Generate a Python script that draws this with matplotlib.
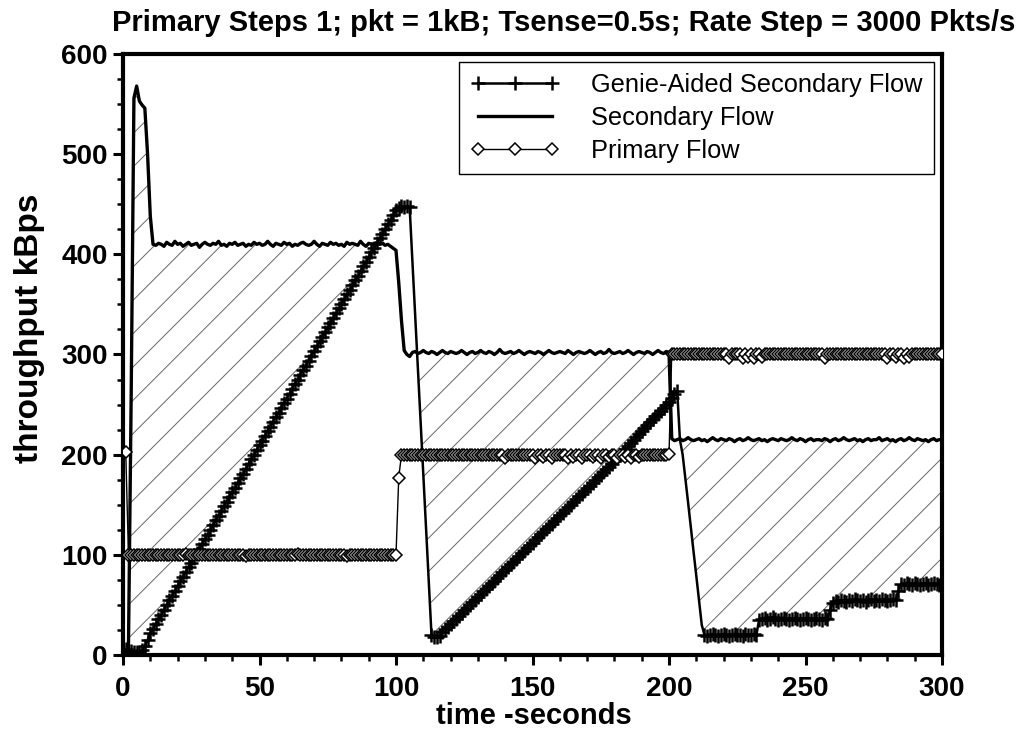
import numpy as np
import matplotlib
matplotlib.use("Agg")
import matplotlib.pyplot as plt

plt.rcParams['font.family'] = ['Liberation Sans', 'DejaVu Sans']
plt.rcParams['hatch.linewidth'] = 0.7

title_text = "Primary Steps 1; pkt = 1kB; Tsense=0.5s; Rate Step = 3000 Pkts/s"
x_label = "time -seconds"
y_label = "throughput kBps"
series_names = ["Genie-Aided Secondary Flow", "Secondary Flow", "Primary Flow"]
x_ticks = [0, 50, 100, 150, 200, 250, 300]
y_ticks = [0, 100, 200, 300, 400, 500, 600]

# time axis (seconds), one sample per second
seconds = list(range(0, 301))

secondary_kbps = [
    0, 2, 8, 260, 556, 568, 553, 549, 546, 500,            # 0-9
    438, 410, 409, 411, 410, 408, 412, 410, 409, 413,      # 10-19
    410, 411, 408, 410, 412, 409, 410, 411, 407, 410,      # 20-29
    412, 410, 409, 411, 410, 413, 409, 410, 408, 411,      # 30-39
    410, 412, 409, 410, 411, 408, 410, 409, 412, 410,      # 40-49
    411, 409, 410, 413, 410, 408, 411, 410, 409, 412,      # 50-59
    410, 411, 408, 410, 409, 411, 412, 410, 409, 410,      # 60-69
    413, 410, 408, 411, 410, 409, 412, 410, 411, 409,      # 70-79
    410, 408, 412, 410, 411, 410, 409, 413, 410, 408,      # 80-89
    411, 410, 409, 412, 410, 411, 409, 410, 408, 406,      # 90-99
    404, 372, 334, 304, 300, 298, 302, 303, 301, 302,      # 100-109
    304, 302, 301, 303, 302, 300, 302, 304, 302, 301,      # 110-119
    303, 302, 301, 302, 304, 302, 300, 302, 303, 301,      # 120-129
    302, 304, 302, 301, 303, 302, 300, 302, 305, 302,      # 130-139
    301, 302, 303, 301, 302, 304, 302, 300, 302, 303,      # 140-149
    302, 301, 303, 302, 300, 302, 304, 302, 301, 302,      # 150-159
    303, 302, 301, 304, 302, 300, 302, 303, 302, 301,      # 160-169
    302, 304, 302, 300, 302, 303, 301, 302, 305, 302,      # 170-179
    301, 302, 303, 301, 302, 304, 302, 300, 302, 303,      # 180-189
    302, 301, 303, 302, 300, 302, 304, 302, 301, 303,      # 190-199
    302, 216, 214, 215, 216, 214, 215, 217, 215, 214,      # 200-209
    215, 216, 214, 215, 213, 215, 217, 215, 214, 216,      # 210-219
    215, 214, 216, 215, 213, 215, 216, 214, 215, 217,      # 220-229
    215, 214, 215, 216, 214, 215, 213, 215, 216, 215,      # 230-239
    214, 216, 215, 214, 215, 217, 215, 214, 216, 215,      # 240-249
    213, 215, 216, 214, 215, 215, 214, 216, 215, 213,      # 250-259
    215, 216, 214, 215, 217, 215, 214, 215, 216, 214,      # 260-269
    215, 213, 215, 216, 214, 215, 215, 217, 214, 215,      # 270-279
    216, 214, 215, 213, 215, 216, 214, 215, 217, 215,      # 280-289
    214, 216, 215, 214, 215, 213, 215, 216, 214, 215,      # 290-299
    215,                                                   # 300
]

genie_kbps = [
    0, 6, 5, 4, 3, 3, 2, 5, 9, 15,                         # 0-9
    22, 26, 31, 36, 40, 45, 50, 55, 59, 64,                # 10-19
    69, 74, 78, 83, 88, 92, 97, 102, 106, 111,             # 20-29
    116, 120, 125, 130, 135, 139, 144, 149, 153, 158,      # 30-39
    163, 167, 172, 177, 181, 186, 191, 196, 200, 205,      # 40-49
    210, 214, 219, 224, 228, 233, 238, 242, 247, 252,      # 50-59
    256, 261, 266, 271, 275, 280, 285, 289, 294, 299,      # 60-69
    303, 308, 313, 317, 322, 327, 331, 336, 341, 346,      # 70-79
    350, 355, 360, 364, 369, 374, 378, 383, 388, 392,      # 80-89
    397, 402, 406, 411, 416, 420, 425, 430, 434, 439,      # 90-99
    444, 446, 448, 447, 448, 447, 394, 340, 287, 234,      # 100-109
    180, 127, 73, 20, 18, 18, 19, 23, 26, 28,              # 110-119
    31, 34, 36, 39, 42, 45, 47, 50, 53, 55,                # 120-129
    58, 61, 64, 66, 69, 72, 74, 77, 80, 83,                # 130-139
    85, 88, 91, 93, 96, 99, 102, 104, 107, 110,            # 140-149
    112, 115, 118, 121, 123, 126, 129, 131, 134, 137,      # 150-159
    140, 142, 145, 148, 150, 153, 156, 159, 161, 164,      # 160-169
    167, 169, 172, 175, 178, 180, 183, 186, 188, 191,      # 170-179
    194, 197, 200, 203, 206, 209, 212, 215, 218, 221,      # 180-189
    224, 227, 230, 233, 236, 239, 241, 244, 247, 250,      # 190-199
    253, 257, 261, 264, 215, 200, 176, 152, 127, 103,      # 200-209
    79, 54, 30, 20, 19, 20, 21, 20, 19, 20,                # 210-219
    21, 20, 19, 20, 21, 20, 20, 19, 21, 20,                # 220-229
    20, 21, 20, 35, 36, 37, 35, 36, 38, 36,                # 230-239
    35, 36, 37, 36, 35, 36, 37, 36, 35, 36,                # 240-249
    37, 36, 35, 36, 37, 36, 35, 37, 36, 45,                # 250-259
    52, 54, 53, 55, 54, 53, 55, 54, 56, 55,                # 260-269
    54, 55, 53, 55, 56, 54, 55, 54, 56, 55,                # 270-279
    54, 55, 56, 55, 64, 71, 70, 72, 71, 70,                # 280-289
    72, 71, 70, 71, 72, 70, 71, 72, 71, 70,                # 290-299
    71,                                                    # 300
]

nan = float('nan')
primary_kbps = [
    nan, 203, 100, 100, 100, 100, 100, 100, 100, 100,      # 0-9
    100, 100, 100, 100, 100, 100, 100, 100, 100, 100,      # 10-19
    100, 100, 100, 101, 100, 100, 100, 100, 100, 100,      # 20-29
    100, 100, 100, 100, 100, 100, 100, 100, 100, 100,      # 30-39
    100, 100, 100, 100, 100, 99, 100, 100, 100, 100,       # 40-49
    100, 100, 100, 100, 100, 100, 100, 100, 100, 100,      # 50-59
    100, 100, 100, 100, 101, 100, 100, 100, 100, 100,      # 60-69
    100, 100, 100, 100, 100, 100, 100, 100, 100, 100,      # 70-79
    100, 100, 99, 100, 100, 100, 100, 100, 100, 100,       # 80-89
    100, 100, 100, 100, 100, 100, 100, 100, 100, 100,      # 90-99
    100, 177, 200, 200, 200, 200, 200, 200, 200, 200,      # 100-109
    200, 200, 200, 200, 200, 200, 200, 200, 200, 200,      # 110-119
    200, 200, 200, 200, 200, 200, 200, 200, 200, 200,      # 120-129
    200, 200, 200, 200, 200, 200, 200, 200, 200, 200,      # 130-139
    197, 200, 200, 200, 200, 200, 200, 200, 200, 200,      # 140-149
    200, 197, 200, 200, 198, 200, 200, 197, 200, 200,      # 150-159
    200, 200, 200, 197, 200, 198, 200, 200, 197, 200,      # 160-169
    200, 200, 198, 200, 200, 197, 200, 200, 198, 200,      # 170-179
    200, 197, 200, 200, 198, 200, 197, 200, 200, 198,      # 180-189
    200, 200, 200, 200, 200, 200, 200, 200, 200, 200,      # 190-199
    201, 300, 300, 300, 300, 300, 300, 300, 300, 300,      # 200-209
    300, 300, 300, 300, 300, 300, 300, 300, 300, 300,      # 210-219
    300, 300, 297, 300, 300, 300, 300, 297, 300, 298,      # 220-229
    300, 297, 300, 300, 298, 300, 300, 300, 300, 300,      # 230-239
    300, 300, 300, 300, 300, 300, 300, 300, 300, 300,      # 240-249
    300, 300, 300, 300, 300, 300, 300, 297, 300, 300,      # 250-259
    300, 300, 300, 300, 300, 300, 300, 300, 300, 300,      # 260-269
    300, 300, 300, 300, 300, 300, 300, 300, 300, 300,      # 270-279
    297, 300, 300, 298, 300, 300, 297, 300, 298, 300,      # 280-289
    300, 300, 300, 300, 300, 300, 300, 300, 300, 300,      # 290-299
    300,                                                   # 300
]

t = np.array(seconds, dtype=float)
sec = np.array(secondary_kbps, dtype=float)
gen = np.array(genie_kbps, dtype=float)
pri = np.array(primary_kbps, dtype=float)

# genie markers are not drawn on the two steep drop segments
genie_marks = [not (105 < s < 113 or 203 < s < 213) for s in seconds]

W, H = 1021, 740
fig = plt.figure(figsize=(W / 100, H / 100), dpi=100)
ax = fig.add_axes([123 / W, (H - 655) / H, (942 - 123) / W, (655 - 54) / H])

# hatched gap between secondary flow and genie-aided flow
ax.fill_between(t, gen, sec, where=sec > gen, interpolate=True,
                facecolor='none', edgecolor='#666666', hatch='/',
                linewidth=0, zorder=1)

ax.plot(t, gen, color='black', lw=1.8, marker='+', markersize=10,
        markeredgewidth=1.8, markevery=genie_marks, label=series_names[0],
        zorder=3)
ax.plot(t, sec, color='black', lw=2.4, label=series_names[1], zorder=2)
ax.plot(t, pri, color='black', lw=1.0, marker='D', markersize=6.3,
        markerfacecolor='white', markeredgecolor='black',
        markeredgewidth=1.1, label=series_names[2], zorder=4)

ax.set_xlim(0, 300)
ax.set_ylim(0, 600)
ax.set_xticks(x_ticks)
ax.set_yticks(y_ticks)
ax.set_xticks(np.arange(0, 301, 10), minor=True)
ax.set_yticks(np.arange(0, 601, 25), minor=True)
ax.tick_params(axis='both', which='major', direction='out', length=7,
               width=2.2, labelsize=20)
ax.tick_params(axis='x', which='major', pad=8)
ax.tick_params(axis='y', which='major', pad=4)
ax.tick_params(axis='both', which='minor', direction='out', length=4,
               width=1.8)
for lab in ax.get_xticklabels() + ax.get_yticklabels():
    lab.set_fontweight('bold')
for sp in ax.spines.values():
    sp.set_linewidth(3)
    sp.set_color('black')

fig.text(564 / W, 1 - 31 / H, title_text, ha='center', va='baseline',
         fontsize=21, fontweight='bold')
fig.text(534 / W, 1 - 716 / H, x_label, ha='center', va='center',
         fontsize=21, fontweight='bold')
fig.text(30 / W, 1 - 328 / H, y_label, ha='center', va='center',
         rotation=90, fontsize=24, fontweight='bold')

leg = ax.legend(loc='upper right', bbox_to_anchor=(1.0, 1.0),
                fontsize=18.3, frameon=True, fancybox=False, shadow=False,
                numpoints=3, handlelength=3.5, handletextpad=1.25,
                labelspacing=0.35, borderpad=0.45, borderaxespad=0.3)
leg.get_frame().set_edgecolor('black')
leg.get_frame().set_linewidth(1.0)
leg.get_frame().set_facecolor('white')
leg.get_frame().set_alpha(1)

fig.savefig('out.png', dpi=100)
